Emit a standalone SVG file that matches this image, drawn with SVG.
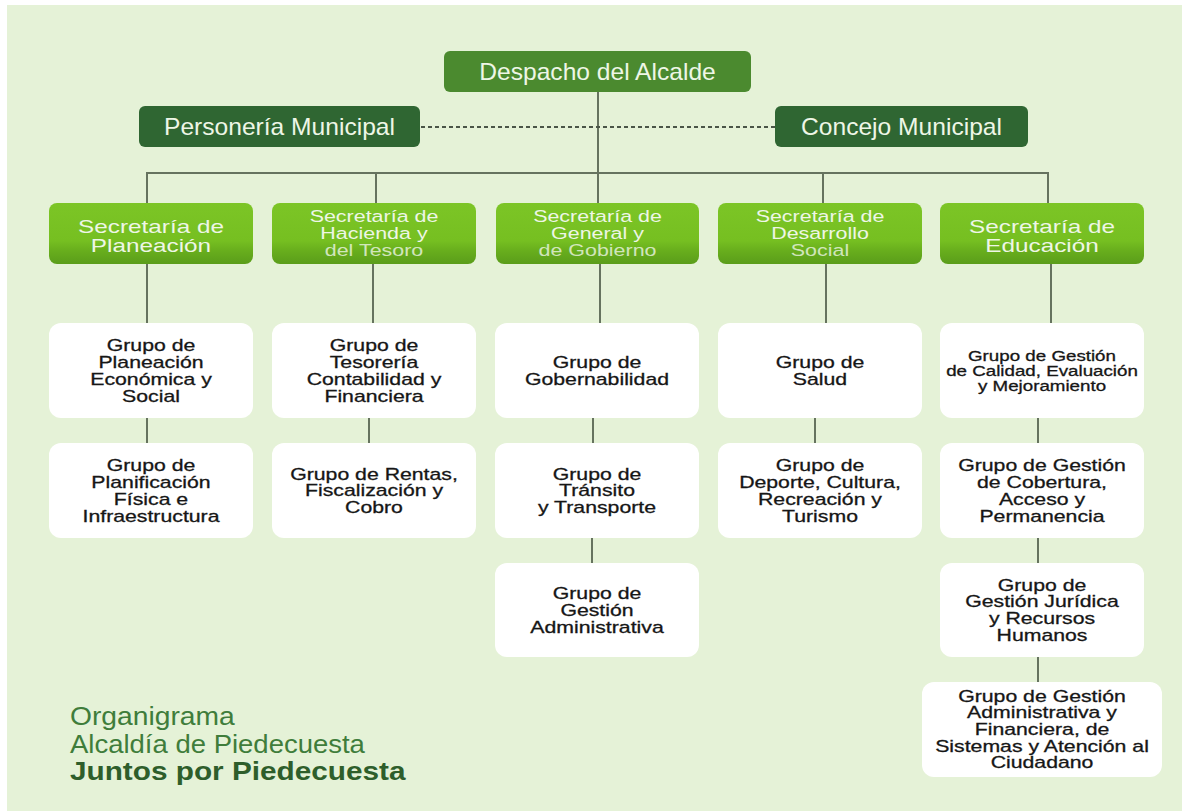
<svg xmlns="http://www.w3.org/2000/svg" width="1182" height="811" viewBox="0 0 1182 811">
<defs>
<linearGradient id="gSec" x1="0" y1="0" x2="0" y2="1">
<stop offset="0" stop-color="#7cc526"/>
<stop offset="0.62" stop-color="#76bf21"/>
<stop offset="0.78" stop-color="#68ae1d"/>
<stop offset="1" stop-color="#5a9d1a"/>
</linearGradient>
<style>
.bg{fill:#e5f2d7}
.top{fill:#4b8a2f}
.dark{fill:#2f6632}
.sec{fill:url(#gSec)}
.grp{fill:#ffffff}
.ln{stroke:#66735f;stroke-width:2;fill:none}
.dot{stroke:#4a5547;stroke-width:2;stroke-dasharray:4 3;fill:none}
.tw{font-family:"Liberation Sans",Arial,sans-serif;fill:#eef6e6;text-anchor:middle}
.tg{font-family:"Liberation Sans",Arial,sans-serif;fill:#161616;stroke:#161616;stroke-width:0.3;text-anchor:middle;font-size:17px}
.ts{font-size:15px}
.tt{font-family:"Liberation Sans",Arial,sans-serif;font-size:25px;fill:#3f7d3b}
.tb{font-weight:bold;fill:#2e5e2b}
.fade{fill-opacity:0.8}
</style>
</defs>
<rect class="bg" x="7" y="5" width="1175" height="806"/>

<g id="connectors">
<line class="ln" x1="598" y1="92" x2="598" y2="203"/>
<line class="dot" x1="421" y1="127" x2="775" y2="127"/>
<line class="ln" x1="147" y1="173" x2="1049" y2="173"/>
<line class="ln" x1="147" y1="172" x2="147" y2="203"/>
<line class="ln" x1="376" y1="173" x2="376" y2="203"/>
<line class="ln" x1="823" y1="173" x2="823" y2="203"/>
<line class="ln" x1="1048" y1="172" x2="1048" y2="203"/>
<line class="ln" x1="147" y1="264" x2="147" y2="323"/>
<line class="ln" x1="373" y1="264" x2="373" y2="323"/>
<line class="ln" x1="600" y1="264" x2="600" y2="323"/>
<line class="ln" x1="826" y1="264" x2="826" y2="323"/>
<line class="ln" x1="1051" y1="264" x2="1051" y2="323"/>
<line class="ln" x1="147" y1="418" x2="147" y2="443"/>
<line class="ln" x1="369" y1="418" x2="369" y2="443"/>
<line class="ln" x1="593" y1="418" x2="593" y2="443"/>
<line class="ln" x1="815" y1="418" x2="815" y2="443"/>
<line class="ln" x1="1038" y1="418" x2="1038" y2="443"/>
<line class="ln" x1="592" y1="538" x2="592" y2="563"/>
<line class="ln" x1="1038" y1="538" x2="1038" y2="563"/>
<line class="ln" x1="1038" y1="657" x2="1038" y2="682"/>
</g>

<g id="despacho">
<rect class="top" x="444" y="51" width="307" height="41" rx="6"/>
<text class="tw" font-size="23" transform="translate(597.5,79.5) scale(1.07,1)">Despacho del Alcalde</text>
</g>
<g id="personeria">
<rect class="dark" x="139" y="106" width="281" height="41" rx="6"/>
<text class="tw" font-size="23" transform="translate(279.5,134.5) scale(1.07,1)">Personería Municipal</text>
</g>
<g id="concejo">
<rect class="dark" x="775" y="106" width="253" height="41" rx="6"/>
<text class="tw" font-size="23" transform="translate(901.5,134.5) scale(1.07,1)">Concejo Municipal</text>
</g>

<g id="sec-planeacion">
<rect class="sec" x="49" y="203" width="204" height="61" rx="8"/>
<text class="tw" font-size="19" transform="translate(151,232.5) scale(1.28,1)"><tspan x="0">Secretaría de</tspan><tspan x="0" dy="19.5">Planeación</tspan></text>
</g>
<g id="sec-hacienda">
<rect class="sec" x="272" y="203" width="204" height="61" rx="8"/>
<text class="tw" font-size="16.5" transform="translate(374,222) scale(1.3,1)"><tspan x="0">Secretaría de</tspan><tspan x="0" dy="17">Hacienda y</tspan><tspan x="0" dy="17" class="fade">del Tesoro</tspan></text>
</g>
<g id="sec-general">
<rect class="sec" x="496" y="203" width="203" height="61" rx="8"/>
<text class="tw" font-size="16.5" transform="translate(597.5,222) scale(1.3,1)"><tspan x="0">Secretaría de</tspan><tspan x="0" dy="17">General y</tspan><tspan x="0" dy="17" class="fade">de Gobierno</tspan></text>
</g>
<g id="sec-desarrollo">
<rect class="sec" x="718" y="203" width="204" height="61" rx="8"/>
<text class="tw" font-size="16.5" transform="translate(820,222) scale(1.3,1)"><tspan x="0">Secretaría de</tspan><tspan x="0" dy="17">Desarrollo</tspan><tspan x="0" dy="17" class="fade">Social</tspan></text>
</g>
<g id="sec-educacion">
<rect class="sec" x="940" y="203" width="204" height="61" rx="8"/>
<text class="tw" font-size="19" transform="translate(1042,232.5) scale(1.28,1)"><tspan x="0">Secretaría de</tspan><tspan x="0" dy="19.5">Educación</tspan></text>
</g>

<g id="g-planeacion-eco">
<rect class="grp" x="49" y="323" width="204" height="95" rx="12"/>
<text class="tg" transform="translate(151,351) scale(1.25,1)"><tspan x="0">Grupo de</tspan><tspan x="0" dy="17">Planeación</tspan><tspan x="0" dy="17">Económica y</tspan><tspan x="0" dy="17">Social</tspan></text>
</g>
<g id="g-planificacion">
<rect class="grp" x="49" y="443" width="204" height="95" rx="12"/>
<text class="tg" transform="translate(151,471) scale(1.25,1)"><tspan x="0">Grupo de</tspan><tspan x="0" dy="17">Planificación</tspan><tspan x="0" dy="17">Física e</tspan><tspan x="0" dy="17">Infraestructura</tspan></text>
</g>
<g id="g-tesoreria">
<rect class="grp" x="272" y="323" width="204" height="95" rx="12"/>
<text class="tg" transform="translate(374,351) scale(1.25,1)"><tspan x="0">Grupo de</tspan><tspan x="0" dy="17">Tesorería</tspan><tspan x="0" dy="17">Contabilidad y</tspan><tspan x="0" dy="17">Financiera</tspan></text>
</g>
<g id="g-rentas">
<rect class="grp" x="272" y="443" width="204" height="95" rx="12"/>
<text class="tg" transform="translate(374,479.5) scale(1.25,1)"><tspan x="0">Grupo de Rentas,</tspan><tspan x="0" dy="17">Fiscalización y</tspan><tspan x="0" dy="17">Cobro</tspan></text>
</g>
<g id="g-gobernabilidad">
<rect class="grp" x="495" y="323" width="204" height="95" rx="12"/>
<text class="tg" transform="translate(597,368) scale(1.25,1)"><tspan x="0">Grupo de</tspan><tspan x="0" dy="17">Gobernabilidad</tspan></text>
</g>
<g id="g-transito">
<rect class="grp" x="495" y="443" width="204" height="95" rx="12"/>
<text class="tg" transform="translate(597,479.5) scale(1.25,1)"><tspan x="0">Grupo de</tspan><tspan x="0" dy="17">Tránsito</tspan><tspan x="0" dy="17">y Transporte</tspan></text>
</g>
<g id="g-gestion-admin">
<rect class="grp" x="495" y="563" width="204" height="94" rx="12"/>
<text class="tg" transform="translate(597,599) scale(1.25,1)"><tspan x="0">Grupo de</tspan><tspan x="0" dy="17">Gestión</tspan><tspan x="0" dy="17">Administrativa</tspan></text>
</g>
<g id="g-salud">
<rect class="grp" x="718" y="323" width="204" height="95" rx="12"/>
<text class="tg" transform="translate(820,368) scale(1.25,1)"><tspan x="0">Grupo de</tspan><tspan x="0" dy="17">Salud</tspan></text>
</g>
<g id="g-deporte">
<rect class="grp" x="718" y="443" width="204" height="95" rx="12"/>
<text class="tg" transform="translate(820,471) scale(1.25,1)"><tspan x="0">Grupo de</tspan><tspan x="0" dy="17">Deporte, Cultura,</tspan><tspan x="0" dy="17">Recreación y</tspan><tspan x="0" dy="17">Turismo</tspan></text>
</g>
<g id="g-calidad">
<rect class="grp" x="940" y="323" width="204" height="95" rx="12"/>
<text class="tg ts" transform="translate(1042,360.5) scale(1.25,1)"><tspan x="0">Grupo de Gestión</tspan><tspan x="0" dy="15.5">de Calidad, Evaluación</tspan><tspan x="0" dy="15.5">y Mejoramiento</tspan></text>
</g>
<g id="g-cobertura">
<rect class="grp" x="940" y="443" width="204" height="95" rx="12"/>
<text class="tg" transform="translate(1042,471) scale(1.25,1)"><tspan x="0">Grupo de Gestión</tspan><tspan x="0" dy="17">de Cobertura,</tspan><tspan x="0" dy="17">Acceso y</tspan><tspan x="0" dy="17">Permanencia</tspan></text>
</g>
<g id="g-juridica">
<rect class="grp" x="940" y="563" width="204" height="94" rx="12"/>
<text class="tg" transform="translate(1042,590.5) scale(1.25,1)"><tspan x="0">Grupo de</tspan><tspan x="0" dy="17">Gestión Jurídica</tspan><tspan x="0" dy="17">y Recursos</tspan><tspan x="0" dy="17">Humanos</tspan></text>
</g>
<g id="g-admin-financiera">
<rect class="grp" x="922" y="682" width="240" height="95" rx="12"/>
<text class="tg" transform="translate(1042,701.5) scale(1.25,1)"><tspan x="0">Grupo de Gestión</tspan><tspan x="0" dy="16.7">Administrativa y</tspan><tspan x="0" dy="16.7">Financiera, de</tspan><tspan x="0" dy="16.7">Sistemas y Atención al</tspan><tspan x="0" dy="16.7">Ciudadano</tspan></text>
</g>

<g id="title">
<text class="tt" transform="translate(70,725) scale(1.13,1)">Organigrama</text>
<text class="tt" transform="translate(70,753) scale(1.1,1)">Alcaldía de Piedecuesta</text>
<text class="tt tb" transform="translate(70,780) scale(1.19,1)">Juntos por Piedecuesta</text>
</g>
</svg>
